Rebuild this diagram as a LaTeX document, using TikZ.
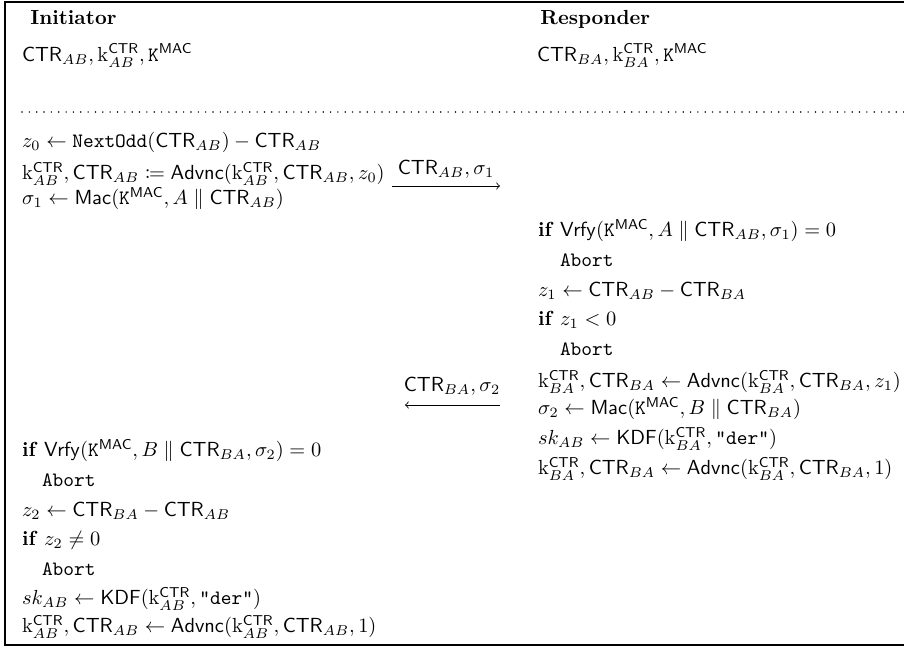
\documentclass[tikz,border=0pt]{standalone}
\usepackage{amsmath,amssymb,mathtools}
\begin{document}
% protocol: sizes below are in pixel units of the page
\newcommand{\ctr}[1]{\mathsf{CTR}_{#1}}
\newcommand{\kc}[1]{\mathrm{k}_{#1}^{\mathsf{CTR}}}
\newcommand{\kmac}{\mathtt{K}^{\mathsf{MAC}}}
\begin{tikzpicture}[x=0.49pt,y=-0.49pt,
  line/.style={anchor=mid west,inner sep=0pt,outer sep=0pt},
  head/.style={anchor=mid west,inner sep=0pt,font=\bfseries},
  msg/.style={anchor=mid,inner sep=0pt},
  arr/.style={->,line width=0.4pt}]
\useasboundingbox (0,0) rectangle (904,648);
% frame, open at the right
\draw[line width=0.6pt] (904,2) -- (5,2) -- (5,645) -- (904,645);

% headers and initial state
\node[head] (hI) at (30,20) {Initiator};
\node[head] (hR) at (540,20) {Responder};
\node[line] (sI) at (22,57) {$\ctr{AB}, \kc{AB}, \kmac$};
\node[line] (sR) at (537,57) {$\ctr{BA}, \kc{BA}, \kmac$};
\draw[line width=0.8pt,line cap=round,dash pattern=on 0pt off 3.6pt] (22,112) -- (904,112);

% initiator, first part
\node[line] (a1) at (22,143) {$z_0 \gets \mathtt{NextOdd}(\ctr{AB}) - \ctr{AB}$};
\node[line] (a2) at (22,175) {$\kc{AB}, \ctr{AB} \coloneqq \mathsf{Advnc}(\kc{AB}, \ctr{AB}, z_0)$};
\node[line] (a3) at (22,200) {$\sigma_1 \gets \mathsf{Mac}(\kmac, A \parallel \ctr{AB})$};

% first message
\node[msg] (m1) at (446,170) {$\ctr{AB}, \sigma_1$};
\coordinate (m1s) at (392,186);
\coordinate (m1e) at (500,186);
\draw[arr] (m1s) -- (m1e);

% responder
\node[line] (b1) at (538,232) {\textbf{if} $\mathsf{Vrfy}(\kmac, A \parallel \ctr{AB}, \sigma_1) = 0$};
\node[line] (b2) at (560,262) {\texttt{Abort}};
\node[line] (b3) at (538,292) {$z_1 \gets \ctr{AB} - \ctr{BA}$};
\node[line] (b4) at (538,321) {\textbf{if} $z_1 < 0$};
\node[line] (b5) at (560,351) {\texttt{Abort}};
\node[line] (b6) at (538,383) {$\kc{BA}, \ctr{BA} \gets \mathsf{Advnc}(\kc{BA}, \ctr{BA}, z_1)$};
\node[line] (b7) at (538,410) {$\sigma_2 \gets \mathsf{Mac}(\kmac, B \parallel \ctr{BA})$};
\node[line] (b8) at (538,440) {$sk_{AB} \gets \mathsf{KDF}(\kc{BA}, \texttt{"der"})$};
\node[line] (b9) at (538,470) {$\kc{BA}, \ctr{BA} \gets \mathsf{Advnc}(\kc{BA}, \ctr{BA}, 1)$};

% second message
\node[msg] (m2) at (452,387) {$\ctr{BA}, \sigma_2$};
\coordinate (m2s) at (500,405);
\coordinate (m2e) at (405,405);
\draw[arr] (m2s) -- (m2e);

% initiator, second part
\node[line] (c1) at (22,452) {\textbf{if} $\mathsf{Vrfy}(\kmac, B \parallel \ctr{BA}, \sigma_2) = 0$};
\node[line] (c2) at (42,482) {\texttt{Abort}};
\node[line] (c3) at (22,512) {$z_2 \gets \ctr{BA} - \ctr{AB}$};
\node[line] (c4) at (22,541) {\textbf{if} $z_2 \neq 0$};
\node[line] (c5) at (42,571) {\texttt{Abort}};
\node[line] (c6) at (22,600) {$sk_{AB} \gets \mathsf{KDF}(\kc{AB}, \texttt{"der"})$};
\node[line] (c7) at (22,628) {$\kc{AB}, \ctr{AB} \gets \mathsf{Advnc}(\kc{AB}, \ctr{AB}, 1)$};
\end{tikzpicture}
\end{document}
